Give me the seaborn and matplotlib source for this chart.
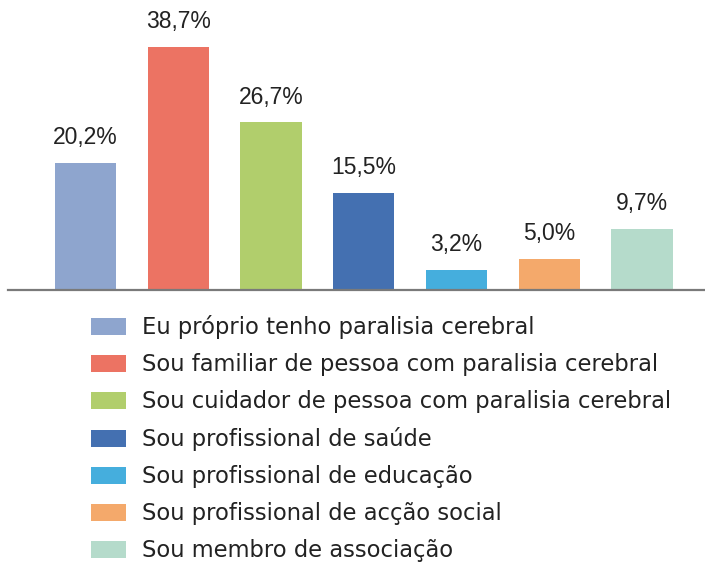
import matplotlib
matplotlib.use("Agg")
import matplotlib.pyplot as plt
import seaborn as sns

categorias = [
    "Eu próprio tenho paralisia cerebral",
    "Sou familiar de pessoa com paralisia cerebral",
    "Sou cuidador de pessoa com paralisia cerebral",
    "Sou profissional de saúde",
    "Sou profissional de educação",
    "Sou profissional de acção social",
    "Sou membro de associação",
]
valores = [20.2, 38.7, 26.7, 15.5, 3.2, 5.0, 9.7]
cores = ["#8EA5CE", "#EC7363", "#B1CE6C", "#4470B1", "#45AEDD", "#F4A96B", "#B5DBCB"]

sns.set_style("white")
plt.rcParams["font.family"] = ["Liberation Sans", "DejaVu Sans"]

W, H = 705, 564
fig = plt.figure(figsize=(W / 100, H / 100), dpi=100)
ax = fig.add_axes([8 / W, (H - 290) / H, 1 - 8 / W, 290 / H])

sns.barplot(x=categorias, y=valores, hue=categorias, palette=cores,
            width=0.66, dodge=False, legend=True, ax=ax, saturation=1,
            linewidth=0)

for cont in ax.containers:
    ax.bar_label(cont, labels=[f"{v:.1f}%".replace(".", ",") for v in cont.datavalues],
                 padding=10, fontsize=16.5, color="#222222")

ax.set_xlim(-0.836, 6.68)
ax.set_ylim(0, 46.2)
ax.set_xticks([])
ax.set_yticks([])
ax.set_xlabel("")
ax.set_ylabel("")
for s in ["top", "right", "left"]:
    ax.spines[s].set_visible(False)
ax.spines["bottom"].set_color("#7a7a7a")
ax.spines["bottom"].set_linewidth(1.6)

handles, labels = ax.get_legend_handles_labels()
ax.get_legend().remove()
fig.legend(handles, labels, loc="upper left", bbox_to_anchor=(91 / W, 1 - 315 / H),
           frameon=False, handlelength=1.55, handleheight=0.78,
           handletextpad=0.72, labelspacing=0.62, borderpad=0, borderaxespad=0,
           labelcolor="#222222",
           prop={"family": "DejaVu Sans", "size": 16.3})

fig.savefig("out.png", dpi=100)
